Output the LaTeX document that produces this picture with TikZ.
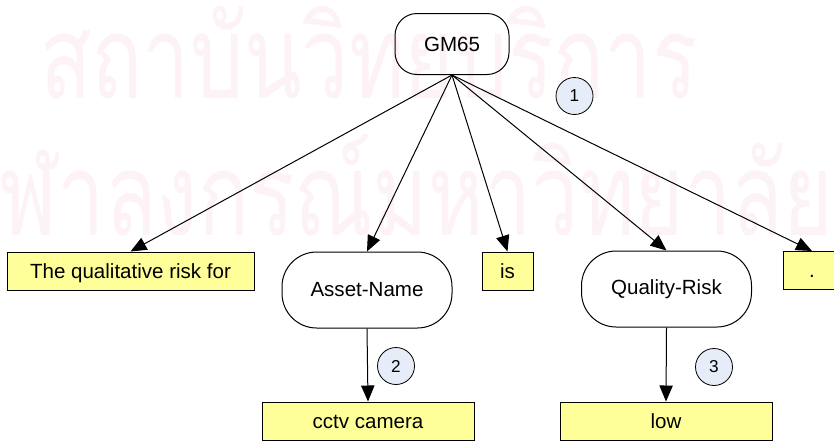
\documentclass[tikz,border=0pt]{standalone}
\usepackage{graphicx}
\usepackage{fontspec}
\setmainfont{Liberation Sans}
\newfontfamily\thaifont[Script=Thai]{Loma}
\usetikzlibrary{arrows.meta}
\definecolor{noteyellow}{RGB}{255,255,153}
\definecolor{tagblue}{RGB}{230,236,248}
\definecolor{wmpink}{RGB}{253,242,246}
\tikzset{
  term/.style={draw=black, line width=0.75pt, rounded corners=16.5pt,
    minimum width=85.5pt, minimum height=45.75pt, inner sep=0pt,
    font=\fontsize{15.4}{18}\selectfont},
  slot/.style={draw=black, fill=white, line width=0.75pt, rounded corners=26pt,
    minimum width=127.5pt, minimum height=57pt, inner sep=0pt,
    font=\fontsize{15.4}{18}\selectfont},
  word/.style={draw=black, fill=noteyellow, line width=0.75pt,
    minimum height=28.5pt, inner sep=0pt, text height=11pt, text depth=0pt,
    font=\fontsize{15.4}{18}\selectfont},
  tag/.style={circle, draw=black, fill=tagblue, line width=0.6pt,
    minimum size=27.75pt, inner sep=0pt,
    font=\fontsize{12.9}{15}\selectfont},
  link/.style={draw=black, line width=0.75pt,
    -{Triangle[length=12pt, width=10pt]}},
  watermark/.style={text=wmpink, inner sep=0pt, anchor=base west,
    font=\thaifont\fontsize{72}{72}\selectfont}
}
\begin{document}
\begin{tikzpicture}[x=0.75pt, y=-0.75pt]
\useasboundingbox (0,0) rectangle (834,440);

% faint institutional watermark behind the tree
\node[watermark] (wmtop) at (40,98) {\scalebox{0.88}[1.2]{สถาบันวิทยบริการ}};
\node[watermark] (wmbot) at (-50,235) {\scalebox{0.88}[1.2]{จุฬาลงกรณ์มหาวิทยาลัย}};

% root
\node[term] (root) at (452,44) {GM65};

% first level
\node[word, minimum width=185.25pt] (qual) at (130.5,271) {The qualitative risk for};
\node[slot] (asset) at (367,290) {Asset-Name};
\node[word, minimum width=38.25pt] (is) at (507.5,271) {is};
\node[slot] (risk) at (666.5,289) {Quality-Risk};
\node[word, minimum width=43.5pt] (dot) at (812,270.5) {.};

% second level
\node[word, minimum width=159pt] (cctv) at (368,421) {cctv camera};
\node[word, minimum width=159pt] (low) at (666,421) {low};

% connectors
\draw[link] (root.south) -- (qual.north);
\draw[link] (root.south) -- (asset.north);
\draw[link] (root.south) -- (is.north);
\draw[link] (root.south) -- (risk.north);
\draw[link] (root.south) -- (dot.north);
\draw[link] (asset.south) -- (cctv.north);
\draw[link] (risk.south) -- (low.north);

% step markers
\node[tag] (t1) at (574.5,96) {1};
\node[tag] (t2) at (396,366) {2};
\node[tag] (t3) at (714,367) {3};
\end{tikzpicture}
\end{document}
